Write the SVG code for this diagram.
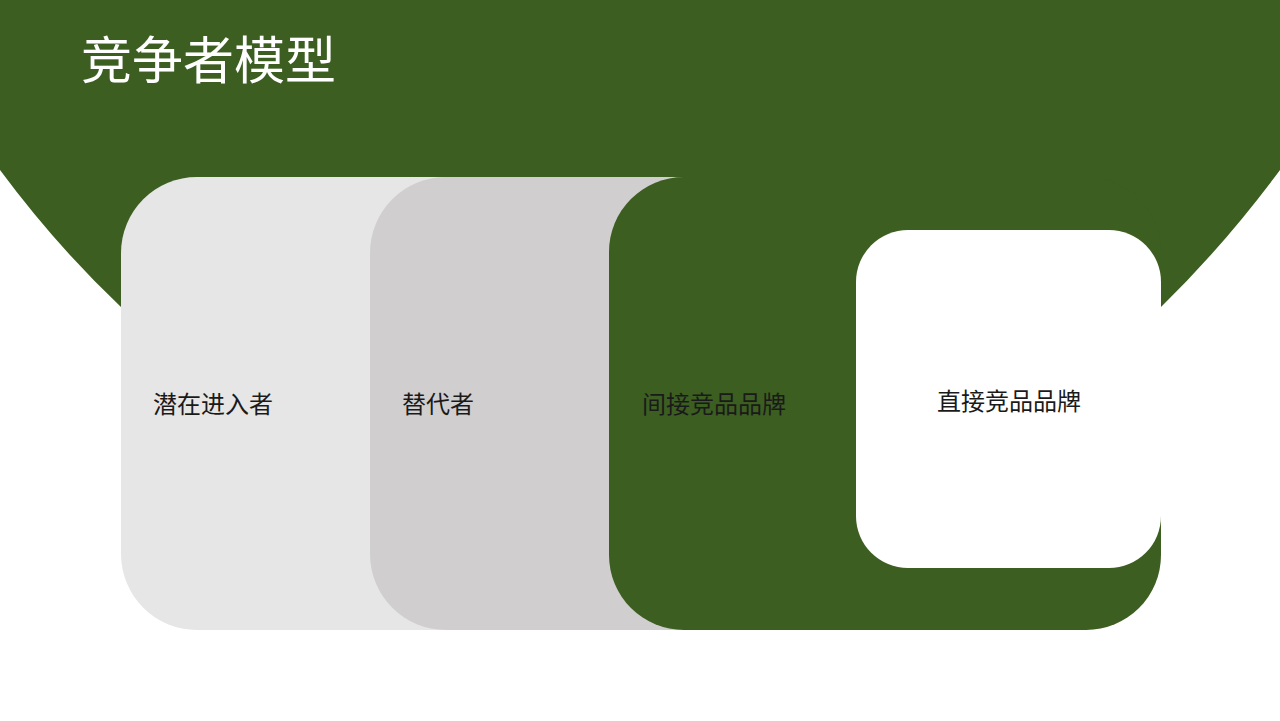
<svg xmlns="http://www.w3.org/2000/svg" width="1280" height="721" viewBox="0 0 1280 721">
<style>
.lbl{font-family:"Noto Sans CJK SC","Noto Sans",sans-serif;font-size:24px;fill:#1a1a1a}
.title{font-family:"Noto Sans CJK SC","Noto Sans",sans-serif;font-size:51px;fill:#ffffff}
</style>
<rect x="0" y="0" width="1280" height="721" fill="#ffffff"/>
<g id="background">
<path d="M0 0 H1280 V170 Q1224 245.5 1161 307 L1161 520 L121 520 L121 307 Q56 245.5 0 170 Z" fill="#3c5e21"/>
</g>
<g id="title">
<text class="title" x="81" y="79">竞争者模型</text>
</g>
<g id="node-potential">
<path d="M197 177 H700 V630 H197 A76 76 0 0 1 121 554 V253 A76 76 0 0 1 197 177 Z" fill="#e6e6e6"/>
<text class="lbl" x="153" y="413">潜在进入者</text>
</g>
<g id="node-substitute">
<path d="M446 177 H900 V630 H446 A76 76 0 0 1 370 554 V253 A76 76 0 0 1 446 177 Z" fill="#d0cecf"/>
<text class="lbl" x="402" y="413">替代者</text>
</g>
<g id="node-indirect">
<rect x="609" y="177" width="552" height="453" rx="75" ry="75" fill="#3c5e21"/>
<text class="lbl" x="642" y="413">间接竞品品牌</text>
</g>
<g id="node-direct">
<rect x="856" y="230" width="305" height="338" rx="52" ry="52" fill="#ffffff"/>
<text class="lbl" x="937" y="410">直接竞品品牌</text>
</g>
<g id="connectors"></g>
</svg>
